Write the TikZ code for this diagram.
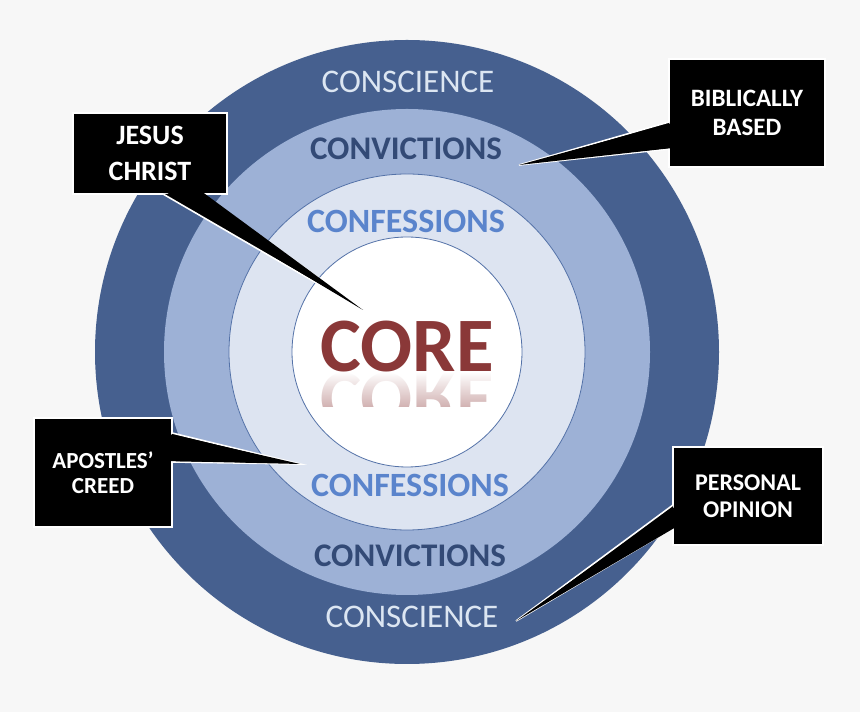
\documentclass[tikz,border=0pt]{standalone}
\usepackage{fontspec}
\setmainfont{Carlito}
\usepackage{graphicx}
\usepackage{xcolor}
\usetikzlibrary{fadings,shadows}
\definecolor{PageGrey}{HTML}{F7F7F7}
\definecolor{DeepBlue}{HTML}{46608F}
\definecolor{MidBlue}{HTML}{9DB1D6}
\definecolor{PaleBlue}{HTML}{DDE4F1}
\definecolor{EdgeBlue}{HTML}{5472A8}
\definecolor{IceText}{HTML}{DCE6F2}
\definecolor{NavyText}{HTML}{334A76}
\definecolor{SkyText}{HTML}{5A84CC}
\definecolor{CoreRed}{HTML}{8A3838}

\begin{document}
\begin{tikzpicture}[x=1pt,y=1pt,every node/.style={inner sep=0pt,outer sep=0pt},ring/.style={draw=EdgeBlue,line width=0.8pt},lbl/.style={anchor=base,font=\fontsize{33}{36}\selectfont},callout/.style={fill=black,draw=white,line width=1.6pt,text=white,align=center,drop shadow={shadow xshift=1pt,shadow yshift=-1.5pt,opacity=.25}},wedge/.style={fill=black,draw=white,line width=1.6pt}]
\useasboundingbox[fill=PageGrey] (0,0) rectangle (860,712);
% rings
\coordinate (c) at (407,360);
\fill[DeepBlue] (c) circle (312);
\fill[MidBlue] (c) circle (243);
\filldraw[ring,fill=PaleBlue] (c) circle (178);
\filldraw[ring,fill=white] (c) circle (115);
% ring labels
\node[lbl,text=IceText] (cst) at (408,619) {CONSCIENCE};
\node[lbl,text=NavyText,font=\bfseries\fontsize{33}{36}\selectfont] (cvt) at (406,552) {CONVICTIONS};
\node[lbl,text=SkyText,font=\bfseries\fontsize{34}{36}\selectfont] (cft) at (406,479) {CONFESSIONS};
\node[lbl,text=SkyText,font=\bfseries\fontsize{34}{36}\selectfont] (cfb) at (410,215) {CONFESSIONS};
\node[lbl,text=NavyText,font=\bfseries\fontsize{33}{36}\selectfont] (cvb) at (410,145) {CONVICTIONS};
\node[lbl,text=IceText] (csb) at (412,84) {CONSCIENCE};
% core and its reflection
\node[lbl,text=CoreRed,font=\bfseries\fontsize{77}{80}\selectfont] (core) at (407,340) {CORE};
\begin{scope}
\clip (c) circle (114);
\node[lbl,text=CoreRed!40,font=\bfseries\fontsize{77}{80}\selectfont] (mirror) at (407,338) {\scalebox{1}[-1]{CORE}};
\fill[white,path fading=south] (310,340) rectangle (505,304);
\fill[white] (310,304.5) rectangle (505,280);
\end{scope}
% callouts
\node[callout,minimum width=154,minimum height=81,font=\bfseries\fontsize{28}{36}\selectfont] (jc) at (150,558.5) {JESUS\\CHRIST};
\coordinate (jctip) at (363,402);
\draw[wedge] ([xshift=13]jc.south) -- (jctip) -- ([xshift=52]jc.south);
\fill ([xshift=14,yshift=3]jc.south) -- (jctip) -- ([xshift=51,yshift=3]jc.south) -- cycle;
\node[callout,minimum width=156,minimum height=108,font=\bfseries\fontsize{25}{29}\selectfont] (bb) at (747,599) {BIBLICALLY\\BASED};
\coordinate (bbtip) at (519,547);
\draw[wedge] ([yshift=-9]bb.west) -- (bbtip) -- ([yshift=-36]bb.west);
\fill ([xshift=3,yshift=-10]bb.west) -- (bbtip) -- ([xshift=3,yshift=-35]bb.west) -- cycle;
\node[callout,minimum width=138,minimum height=109,font=\bfseries\fontsize{23}{25}\selectfont] (ac) at (103,239.5) {APOSTLES’\\CREED};
\coordinate (actip) at (300,248);
\draw[wedge] ([yshift=39.5]ac.east) -- (actip) -- ([yshift=10.5]ac.east);
\fill ([xshift=-3,yshift=38.5]ac.east) -- (actip) -- ([xshift=-3,yshift=11.5]ac.east) -- cycle;
\node[callout,minimum width=150,minimum height=98,font=\bfseries\fontsize{24}{27}\selectfont] (po) at (748,216) {PERSONAL\\OPINION};
\coordinate (potip) at (516,91);
\draw[wedge] ([yshift=-9]po.west) -- (potip) -- ([yshift=-32]po.west);
\fill ([xshift=3,yshift=-10]po.west) -- (potip) -- ([xshift=3,yshift=-31]po.west) -- cycle;
\end{tikzpicture}
\end{document}
